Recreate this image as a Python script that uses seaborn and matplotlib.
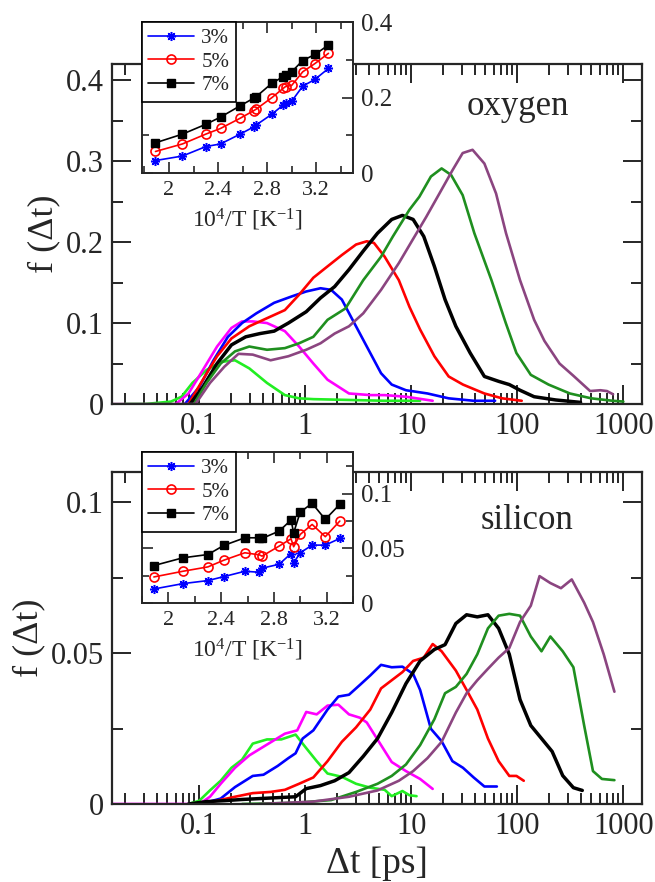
import numpy as np
import pandas as pd
import matplotlib
matplotlib.use('Agg')
import matplotlib.pyplot as plt
import matplotlib.ticker as mticker
import seaborn as sns

# --- oxygen panel: f(dt) curves, one per temperature ---
ox_lime_t = [0.02, 0.031, 0.054, 0.068, 0.086, 0.117, 0.159, 0.217, 0.296, 0.435, 0.641, 0.873, 1.19, 2.58, 5.6, 12.1]
ox_lime_f = [0, 0, 0.003, 0.009, 0.026, 0.042, 0.052, 0.054, 0.044, 0.026, 0.011, 0.007, 0.006, 0.005, 0.004, 0.004]
ox_mag_t = [0.06, 0.079, 0.108, 0.147, 0.201, 0.253, 0.319, 0.435, 0.641, 0.873, 1.19, 1.62, 2.58, 4.1, 5.6, 8.9, 15.9]
ox_mag_f = [0, 0.013, 0.042, 0.071, 0.094, 0.102, 0.102, 0.1, 0.09, 0.071, 0.05, 0.03, 0.013, 0.011, 0.011, 0.009, 0.004]
ox_blue_t = [0.073, 0.1, 0.136, 0.186, 0.253, 0.345, 0.508, 0.748, 1.02, 1.39, 1.75, 2.21, 2.79, 3.8, 5.18, 6.53, 8.9, 14.2, 22.5, 38.7, 61.7]
ox_blue_f = [0, 0.021, 0.054, 0.083, 0.1, 0.112, 0.125, 0.133, 0.139, 0.143, 0.141, 0.129, 0.104, 0.071, 0.038, 0.024, 0.017, 0.013, 0.007, 0.004, 0.004]
ox_red_t = [0.079, 0.108, 0.147, 0.201, 0.296, 0.435, 0.641, 0.873, 1.19, 1.62, 2.21, 3.01, 3.8, 4.44, 5.6, 7.62, 9.6, 12.1, 16.5, 22.5, 30.7, 48.9, 71.9, 110]
ox_red_f = [0, 0.03, 0.059, 0.081, 0.096, 0.106, 0.116, 0.135, 0.156, 0.17, 0.184, 0.197, 0.201, 0.199, 0.182, 0.153, 0.12, 0.092, 0.059, 0.034, 0.024, 0.013, 0.007, 0.004]
ox_black_t = [0.082, 0.108, 0.147, 0.201, 0.274, 0.373, 0.508, 0.692, 1.02, 1.39, 1.89, 2.58, 3.52, 4.8, 6.53, 8.24, 10.4, 13.1, 16.5, 20.8, 26.3, 35.9, 48.9, 66.6, 84, 106, 144, 230, 395]
ox_black_f = [0, 0.021, 0.05, 0.073, 0.083, 0.087, 0.09, 0.1, 0.114, 0.131, 0.145, 0.166, 0.189, 0.211, 0.228, 0.233, 0.228, 0.207, 0.17, 0.129, 0.096, 0.063, 0.034, 0.028, 0.024, 0.017, 0.009, 0.005, 0.002]
ox_green_t = [0.089, 0.117, 0.159, 0.217, 0.296, 0.435, 0.641, 0.873, 1.19, 1.62, 2.39, 3.52, 5.18, 6.7, 9.6, 11.9, 15.3, 19.3, 23.7, 30.5, 39.3, 57, 77.8, 98, 134, 197, 313, 498, 792, 1000]
ox_green_f = [0, 0.026, 0.05, 0.065, 0.071, 0.067, 0.069, 0.075, 0.083, 0.104, 0.118, 0.153, 0.182, 0.207, 0.24, 0.256, 0.281, 0.291, 0.283, 0.258, 0.211, 0.153, 0.1, 0.063, 0.036, 0.024, 0.013, 0.007, 0.004, 0.003]
ox_purple_t = [0.015, 0.035, 0.092, 0.126, 0.172, 0.234, 0.319, 0.47, 0.692, 1.02, 1.39, 1.89, 2.58, 3.52, 5.18, 7.62, 10.3, 13.8, 18.4, 24.5, 30.5, 37.8, 48.9, 63, 78.2, 106, 144, 180, 250, 337, 486, 607, 700, 800]
ox_purple_f = [0, 0, 0, 0.026, 0.046, 0.062, 0.061, 0.054, 0.059, 0.067, 0.075, 0.087, 0.096, 0.112, 0.141, 0.174, 0.203, 0.231, 0.26, 0.289, 0.31, 0.314, 0.297, 0.26, 0.211, 0.153, 0.104, 0.078, 0.05, 0.035, 0.016, 0.017, 0.016, 0.012]

# --- silicon panel ---
si_lime_t = [0.079, 0.1, 0.126, 0.159, 0.201, 0.253, 0.319, 0.435, 0.593, 0.809, 1.02, 1.28, 1.62, 2.21, 3.01, 4.1, 5.6, 6.53, 8.24, 9.6, 11.2]
si_lime_f = [0, 0.0011, 0.0045, 0.0077, 0.012, 0.0147, 0.02, 0.0214, 0.0214, 0.023, 0.0185, 0.0142, 0.0101, 0.009, 0.0067, 0.0054, 0.0047, 0.0026, 0.0043, 0.0029, 0.0026]
si_mag_t = [0.015, 0.1, 0.126, 0.159, 0.217, 0.296, 0.435, 0.641, 0.839, 1.02, 1.28, 1.62, 2.05, 2.58, 3.26, 3.8, 5.18, 6.53, 8.9, 12.1, 15.9]
si_mag_f = [0, 0, 0.0024, 0.0067, 0.012, 0.0161, 0.0197, 0.0233, 0.0244, 0.0305, 0.0297, 0.0326, 0.0329, 0.0297, 0.0286, 0.027, 0.0195, 0.0139, 0.0109, 0.0083, 0.005]
si_blue_t = [0.108, 0.159, 0.217, 0.319, 0.403, 0.548, 0.692, 0.809, 0.944, 1.19, 1.62, 2.05, 2.58, 3.26, 4.1, 5.18, 6.53, 8.24, 10.4, 12.1, 15.3, 19.3, 24.4, 30.7, 38.7, 48.9, 64.1]
si_blue_f = [0.0002, 0.0018, 0.0056, 0.0093, 0.0097, 0.0126, 0.0152, 0.0168, 0.0217, 0.0244, 0.0313, 0.0356, 0.0362, 0.0394, 0.0426, 0.0461, 0.0453, 0.0455, 0.0431, 0.0378, 0.0249, 0.0208, 0.0142, 0.012, 0.0088, 0.0058, 0.0058]
si_red_t = [0.1, 0.147, 0.217, 0.319, 0.47, 0.641, 0.873, 1.19, 1.62, 2.21, 3.01, 4.1, 5.18, 6.53, 8.24, 10.4, 13.1, 15.9, 19.3, 26.3, 33.2, 41.9, 52.8, 66.6, 84, 98.1, 115]
si_red_f = [0, 0.0011, 0.0024, 0.0036, 0.004, 0.0047, 0.0067, 0.0088, 0.0142, 0.0206, 0.0254, 0.0313, 0.0383, 0.041, 0.0437, 0.0474, 0.0485, 0.053, 0.0506, 0.0442, 0.0378, 0.0313, 0.0217, 0.0142, 0.0093, 0.0093, 0.0077]
si_black_t = [0.079, 0.117, 0.172, 0.253, 0.373, 0.548, 0.809, 1.02, 1.39, 1.89, 2.58, 3.52, 4.8, 6.53, 8.9, 12.1, 16.5, 20.8, 26.3, 33.2, 41.9, 52.8, 66.6, 84, 106, 134, 169, 213, 268, 338, 410]
si_black_f = [0, 0.0008, 0.0011, 0.0015, 0.0018, 0.0021, 0.0024, 0.0051, 0.0061, 0.0077, 0.0104, 0.0158, 0.0217, 0.0303, 0.0399, 0.0474, 0.0512, 0.0528, 0.0598, 0.0627, 0.062, 0.0627, 0.0582, 0.0496, 0.0346, 0.026, 0.0217, 0.0174, 0.0094, 0.0054, 0.0045]
si_green_t = [0.253, 0.809, 1.75, 3.01, 4.8, 6.53, 8.9, 12.1, 16.5, 20.8, 26.3, 33.2, 41.9, 52.8, 66.6, 84, 106, 134, 169, 205, 268, 338, 427, 517, 628, 824]
si_green_f = [0, 0.0004, 0.0013, 0.004, 0.0067, 0.0093, 0.0131, 0.0195, 0.0281, 0.0367, 0.0388, 0.0431, 0.0496, 0.0582, 0.0624, 0.063, 0.0624, 0.0555, 0.0506, 0.0555, 0.0506, 0.0453, 0.026, 0.0109, 0.0083, 0.0079]
si_purple_t = [0.373, 1.19, 2.58, 4.8, 7.62, 10.4, 14.2, 19.3, 26.3, 33.2, 41.9, 52.8, 66.6, 84, 106, 134, 162, 205, 258, 326, 427, 517, 653, 824]
si_purple_f = [0, 0.0008, 0.0024, 0.0045, 0.0077, 0.0109, 0.0152, 0.0206, 0.0303, 0.0367, 0.041, 0.0448, 0.0485, 0.0517, 0.0603, 0.0657, 0.0755, 0.0732, 0.0715, 0.0744, 0.0667, 0.0603, 0.0496, 0.0372]

# --- insets: vs 10^4/T ---
inv_T = [1.89, 2.11, 2.30, 2.42, 2.58, 2.69, 2.71, 2.84, 2.93, 2.95, 3.00, 3.09, 3.19, 3.30]
ox_in_3 = [0.033, 0.045, 0.070, 0.077, 0.103, 0.122, 0.127, 0.156, 0.180, 0.185, 0.190, 0.230, 0.248, 0.277]
ox_in_5 = [0.057, 0.077, 0.103, 0.118, 0.145, 0.165, 0.169, 0.200, 0.224, 0.229, 0.232, 0.268, 0.290, 0.317]
ox_in_7 = [0.080, 0.103, 0.129, 0.148, 0.178, 0.198, 0.202, 0.238, 0.255, 0.260, 0.268, 0.298, 0.314, 0.339]
si_in_3 = [0.0128, 0.0177, 0.0205, 0.0241, 0.029, 0.0281, 0.0318, 0.0354, 0.0452, 0.0367, 0.0459, 0.0529, 0.0529, 0.059]
si_in_5 = [0.0238, 0.029, 0.033, 0.0391, 0.0459, 0.044, 0.0428, 0.052, 0.0587, 0.0514, 0.0627, 0.0718, 0.0606, 0.0749]
si_in_7 = [0.0342, 0.0413, 0.0443, 0.0526, 0.0596, 0.0596, 0.059, 0.0657, 0.0758, 0.0642, 0.0831, 0.0911, 0.0764, 0.0902]
conc_labels = ['3%', '5%', '7%']

curve_colors = ['#22ee22', '#ff00ff', '#0000ff', '#ff0000', '#000000', '#1f8f1f', '#8b4580']

sns.set_style('ticks')
plt.rcParams['font.family'] = ['Liberation Serif', 'DejaVu Serif']
plt.rcParams['mathtext.fontset'] = 'custom'
plt.rcParams['mathtext.rm'] = 'Liberation Serif'
plt.rcParams['mathtext.it'] = 'Liberation Serif:italic'

W, H = 655, 882
fig = plt.figure(figsize=(W / 100, H / 100), dpi=100)


def px_box(x0, y0, x1, y1):
    return [x0 / W, 1 - y1 / H, (x1 - x0) / W, (y1 - y0) / H]


def main_panel(ax, curves, ymax, ymaj, ymin_step, name, name_pos):
    for i, (t, f) in enumerate(curves):
        lw = 2.5 if curve_colors[i] == '#000000' else 1.9
        sns.lineplot(x=t, y=f, ax=ax, color=curve_colors[i], lw=lw, sort=False,
                     estimator=None)
    ax.set_xscale('log')
    ax.set_xlim(0.015, 1500)
    ax.set_ylim(0, ymax)
    ax.xaxis.set_major_locator(mticker.LogLocator(base=10, numticks=10))
    ax.xaxis.set_minor_locator(mticker.LogLocator(base=10, subs=np.arange(2, 10), numticks=20))
    ax.xaxis.set_minor_formatter(mticker.NullFormatter())
    ax.xaxis.set_major_formatter(mticker.FuncFormatter(lambda v, p: '%g' % v))
    ax.yaxis.set_major_locator(mticker.MultipleLocator(ymaj))
    ax.yaxis.set_minor_locator(mticker.MultipleLocator(ymin_step))
    ax.yaxis.set_major_formatter(mticker.FuncFormatter(lambda v, p: '%g' % round(v, 4)))
    ax.tick_params(which='both', direction='in', top=True, right=True, width=1.4,
                   labelsize=22, pad=6)
    ax.tick_params(which='major', length=14)
    ax.tick_params(which='minor', length=8)
    for s in ax.spines.values():
        s.set_linewidth(1.6)
    ax.set_ylabel('f (Δt)', fontsize=26, labelpad=4)
    ax.set_xlabel('')
    ax.text(name_pos[0], name_pos[1], name, transform=ax.transAxes, fontsize=25,
            ha='center', va='center')


def inset_panel(ax, ys, xlim, ymax, ymaj, ymin_step):
    ax.set_facecolor('white')
    specs = [
        dict(color='#0000ff', marker=(8, 2, 0), markersize=6.5, markeredgecolor='#0000ff',
             markeredgewidth=1.1),
        dict(color='#ff0000', marker='o', markersize=6.5, markerfacecolor='none',
             markeredgecolor='#ff0000', markeredgewidth=1.2),
        dict(color='#000000', marker='s', markersize=6, markerfacecolor='#000000',
             markeredgecolor='#000000', markeredgewidth=1.0),
    ]
    for y, spec, lab in zip(ys, specs, conc_labels):
        sns.lineplot(x=inv_T, y=y, ax=ax, lw=1.2, sort=False, estimator=None,
                     label=lab, **spec)
    ax.set_xlim(*xlim)
    ax.set_ylim(0, ymax)
    ax.xaxis.set_major_locator(mticker.FixedLocator([2.0, 2.4, 2.8, 3.2]))
    ax.xaxis.set_minor_locator(mticker.MultipleLocator(0.2))
    ax.xaxis.set_major_formatter(mticker.FuncFormatter(lambda v, p: '%g' % round(v, 2)))
    ax.yaxis.set_major_locator(mticker.MultipleLocator(ymaj))
    ax.yaxis.set_minor_locator(mticker.MultipleLocator(ymin_step))
    ax.yaxis.set_major_formatter(mticker.FuncFormatter(lambda v, p: '%g' % round(v, 4)))
    ax.tick_params(which='both', direction='in', top=True, right=True, left=True,
                   labelleft=False, labelright=True, width=1.2)
    ax.tick_params(axis='x', which='major', labelsize=16, length=8, pad=6)
    ax.tick_params(axis='y', which='major', labelsize=18, length=8, pad=6)
    ax.tick_params(which='minor', length=5)
    for s in ax.spines.values():
        s.set_linewidth(1.4)
    ax.set_xlabel(r'10$^{\mathrm{4}}$/T [K$^{\mathrm{-1}}$]', fontsize=17, labelpad=5)
    ax.set_ylabel('')
    leg = ax.legend(loc='upper left', borderaxespad=0, frameon=True, fancybox=False,
                    edgecolor='black', fontsize=15, handlelength=2.2, handletextpad=0.35,
                    borderpad=0.3, labelspacing=0.2)
    leg.get_frame().set_linewidth(1.2)
    leg.get_frame().set_alpha(1)


ax1 = fig.add_axes(px_box(112, 64, 642, 404))
ox_curves = [(ox_lime_t, ox_lime_f), (ox_mag_t, ox_mag_f), (ox_blue_t, ox_blue_f),
             (ox_red_t, ox_red_f), (ox_black_t, ox_black_f), (ox_green_t, ox_green_f),
             (ox_purple_t, ox_purple_f)]
main_panel(ax1, ox_curves, 0.42, 0.1, 0.05, 'oxygen', (0.766, 0.874))

ax2 = fig.add_axes(px_box(112, 472, 642, 804))
si_curves = [(si_lime_t, si_lime_f), (si_mag_t, si_mag_f), (si_blue_t, si_blue_f),
             (si_red_t, si_red_f), (si_black_t, si_black_f), (si_green_t, si_green_f),
             (si_purple_t, si_purple_f)]
main_panel(ax2, si_curves, 0.11, 0.05, 0.025, 'silicon', (0.783, 0.855))
ax2.set_xlabel('Δt [ps]', fontsize=27, labelpad=4)

in1 = fig.add_axes(px_box(142, 22, 353, 173), zorder=5)
inset_panel(in1, [ox_in_3, ox_in_5, ox_in_7], (1.78, 3.5), 0.4, 0.2, 0.1)

in2 = fig.add_axes(px_box(142, 452, 353, 603), zorder=5)
inset_panel(in2, [si_in_3, si_in_5, si_in_7], (1.8, 3.4), 0.138, 0.05, 0.025)

fig.savefig('out.png', dpi=100)
